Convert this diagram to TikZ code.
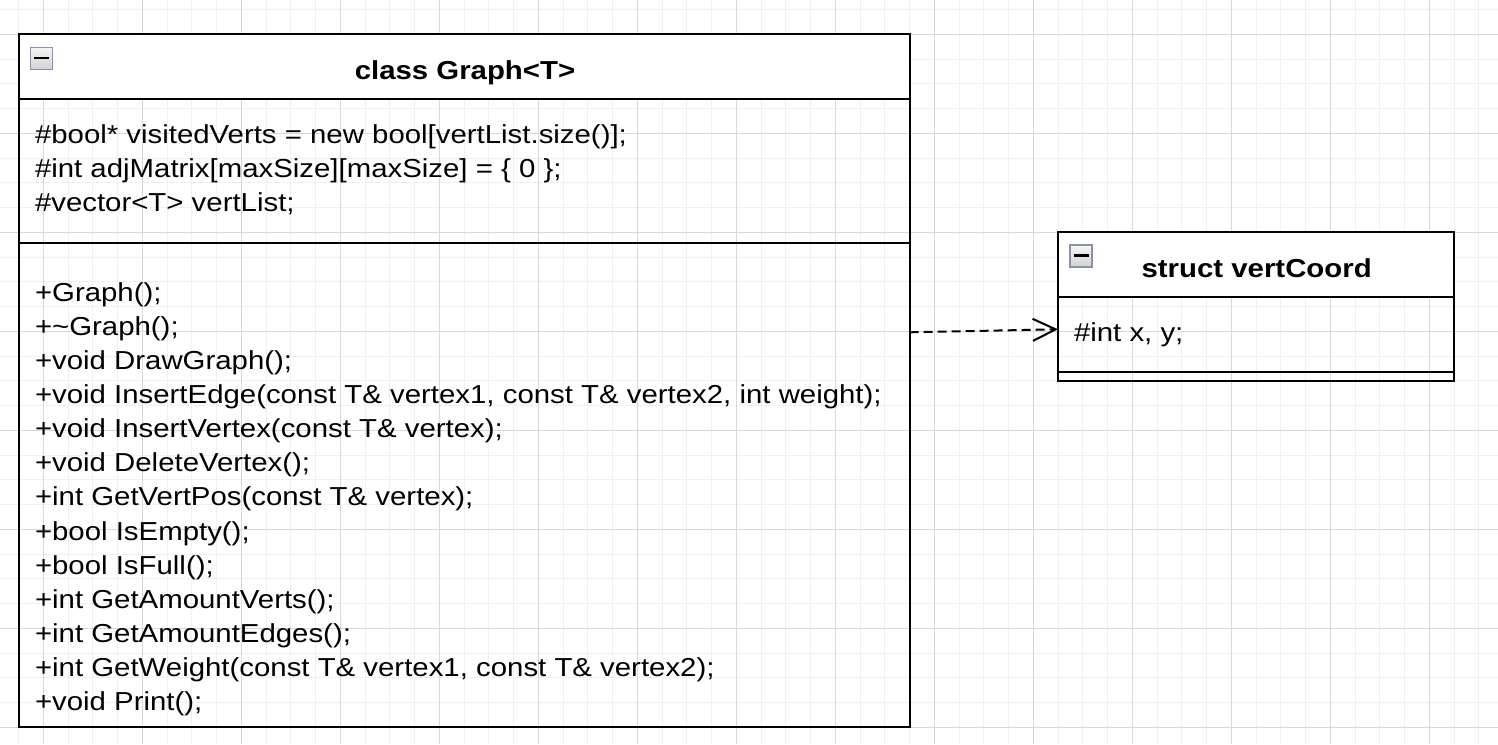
\documentclass[tikz,border=0pt]{standalone}
\usepackage{fontspec}
\setmainfont[FakeStretch=1.13]{Liberation Sans}
\usetikzlibrary{arrows.meta}
\definecolor{gridmajor}{RGB}{216,216,216}
\definecolor{gridminor}{RGB}{240,240,240}
\definecolor{iconborder}{RGB}{140,148,164}
\tikzset{
 minorline/.style={draw=gridminor, line width=1pt},
 majorline/.style={draw=gridmajor, line width=1pt},
 umlbox/.style={draw=black, line width=2pt, inner sep=0pt, outer sep=0pt, anchor=north west},
 sepline/.style={draw=black, line width=2pt},
 txt/.style={inner sep=0pt, outer sep=0pt, anchor=base west, font=\fontsize{26}{34}\selectfont},
 hdr/.style={inner sep=0pt, outer sep=0pt, anchor=base, font=\fontsize{26}{34}\selectfont\bfseries},
 dep/.style={draw=black, line width=2pt, dash pattern=on 9pt off 5pt, -{Straight Barb[length=23pt,width=22pt,line width=2pt]}},
 minusicon/.pic={
   \shadedraw[top color=gray!8, bottom color=gray!35, draw=iconborder, line width=1.5pt] (0,0) rectangle (22,22);
   \draw[black, line width=2.5pt] (3.5,10.5) -- (18.5,10.5);
 }
}
\begin{document}
\begin{tikzpicture}[x=1pt,y=-1pt]
\useasboundingbox (0,0) rectangle (1498,744);
\fill[white] (0,0) rectangle (1498,744);
% grid
\foreach \i in {0,...,59} \draw[minorline] ({18.55+\i*24.75},0) -- ++(0,744);
\foreach \i in {0,...,29} \draw[minorline] (0,{9.55+\i*24.75}) -- ++(1498,0);
\foreach \i in {0,...,14} \draw[majorline] ({43.3+\i*99},0) -- ++(0,744);
\foreach \i in {0,...,7} \draw[majorline] (0,{34.3+\i*99}) -- ++(1498,0);

% class Graph<T>
\fill[white] (18.55,34.3) rectangle (909.55,99.3);
\node[umlbox, minimum width=891pt, minimum height=693pt] (graph) at (18.55,34.3) {};
\draw[sepline] (graph.west |- 0,99.3) -- (graph.east |- 0,99.3);
\draw[sepline] (graph.west |- 0,242.7) -- (graph.east |- 0,242.7);
\pic at (30.5,47.3) {minusicon};
\node[hdr] (gtitle) at (465,79) {class Graph<T>};
\node[txt] (a1) at (35,143.5) {\#bool* visitedVerts = new bool[vertList.size()];};
\node[txt] (a2) at (35,177.6) {\#int adjMatrix[maxSize][maxSize] = \{ 0 \};};
\node[txt] (a3) at (35,211.7) {\#vector<T> vertList;};
\node[txt] (m1) at (35,301.1) {+Graph();};
\node[txt] (m2) at (35,335.2) {+\textasciitilde Graph();};
\node[txt] (m3) at (35,369.4) {+void DrawGraph();};
\node[txt] (m4) at (35,403.5) {+void InsertEdge(const T\& vertex1, const T\& vertex2, int weight);};
\node[txt] (m5) at (35,437.6) {+void InsertVertex(const T\& vertex);};
\node[txt] (m6) at (35,471.8) {+void DeleteVertex();};
\node[txt] (m7) at (35,505.9) {+int GetVertPos(const T\& vertex);};
\node[txt] (m8) at (35,540.0) {+bool IsEmpty();};
\node[txt] (m9) at (35,574.1) {+bool IsFull();};
\node[txt] (m10) at (35,608.3) {+int GetAmountVerts();};
\node[txt] (m11) at (35,642.4) {+int GetAmountEdges();};
\node[txt] (m12) at (35,676.5) {+int GetWeight(const T\& vertex1, const T\& vertex2);};
\node[txt] (m13) at (35,710.7) {+void Print();};

% struct vertCoord
\fill[white] (1058.05,232.3) rectangle (1454.05,297.3);
\node[umlbox, minimum width=396pt, minimum height=148.5pt] (vc) at (1058.05,232.3) {};
\draw[sepline] (vc.west |- 0,297.3) -- (vc.east |- 0,297.3);
\draw[sepline] (vc.west |- 0,371.5) -- (vc.east |- 0,371.5);
\pic at (1070,245) {minusicon};
\node[hdr] (stitle) at (1256.7,277.7) {struct vertCoord};
\node[txt] (s1) at (1074,341.7) {\#int x, y;};

% dependency
\draw[dep] ([yshift=48.5pt]graph.east) -- ([yshift=-22.75pt]vc.west);
\end{tikzpicture}
\end{document}
